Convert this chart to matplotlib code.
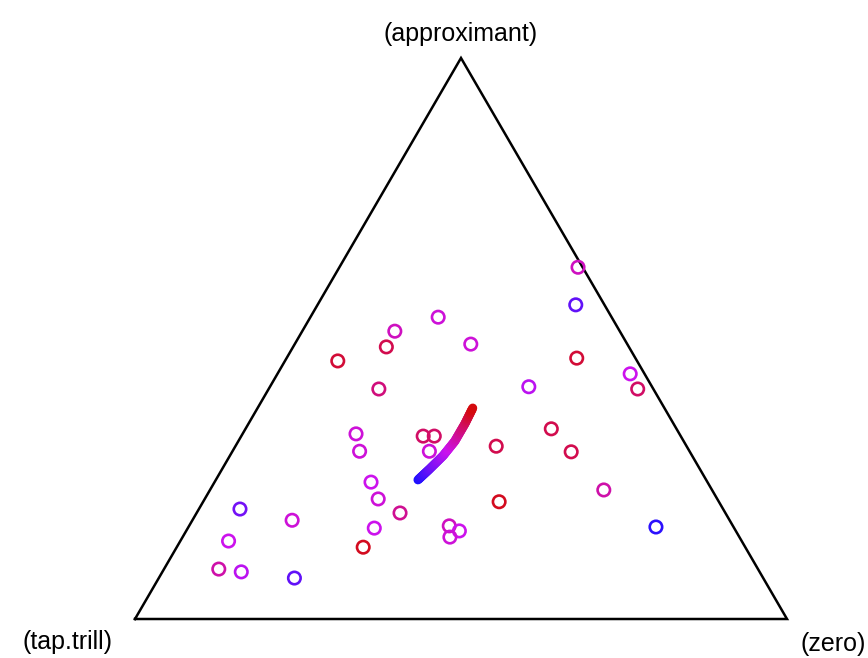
import numpy as np
import matplotlib
matplotlib.use("Agg")
import matplotlib.pyplot as plt
from matplotlib.colors import LinearSegmentedColormap
from matplotlib.collections import LineCollection

# ternary compositions: approximant / zero share (tap.trill = remainder)
approximant = [0.627, 0.560, 0.465, 0.437, 0.410, 0.414, 0.339, 0.308, 0.298, 0.230,
               0.209, 0.164, 0.538, 0.513, 0.485, 0.460, 0.490, 0.410, 0.330, 0.299,
               0.326, 0.326, 0.299, 0.244, 0.214, 0.189, 0.162, 0.128, 0.166, 0.157,
               0.146, 0.196, 0.176, 0.139, 0.089, 0.084, 0.073]
zero = [0.366, 0.396, 0.445, 0.541, 0.566, 0.397, 0.469, 0.400, 0.520, 0.604,
        0.454, 0.717, 0.196, 0.142, 0.143, 0.081, 0.270, 0.169, 0.174, 0.195,
        0.279, 0.296, 0.302, 0.240, 0.266, 0.312, 0.286, 0.286, 0.399, 0.419,
        0.410, 0.063, 0.153, 0.074, 0.084, 0.121, 0.208]
# colour value of each observation (0 = blue, 1 = red)
shade = [0.60, 0.20, 0.90, 0.50, 0.80, 0.45, 0.85, 0.85, 0.85, 0.65,
         0.95, 0.05, 0.55, 0.60, 0.85, 0.90, 0.55, 0.75, 0.55, 0.55,
         0.80, 0.80, 0.55, 0.50, 0.55, 0.70, 0.50, 0.95, 0.60, 0.50,
         0.55, 0.25, 0.55, 0.50, 0.65, 0.45, 0.20]

# fitted trajectory
traj_approximant = [0.248, 0.267, 0.291, 0.317, 0.348, 0.376]
traj_zero = [0.310, 0.318, 0.327, 0.332, 0.332, 0.330]

corner_labels = ["(tap.trill)", "(zero)", "(approximant)"]

H = np.sqrt(3) / 2


def to_xy(a, z):
    a = np.asarray(a)
    z = np.asarray(z)
    return z + a / 2, a * H


cmap = LinearSegmentedColormap.from_list("bmr", ["#1a10ff", "#cc12ee", "#d40a0a"])

fig = plt.figure(figsize=(8.68, 6.58), dpi=100)
ax = fig.add_axes([0, 0, 1, 1])
ax.set_xlim(-135 / 652, 733 / 652)
ax.set_ylim(-39 / 647.8, 619 / 647.8)
ax.axis("off")

# triangle frame
tri_x = [0, 1, 0.5, 0]
tri_y = [0, 0, H, 0]
ax.plot(tri_x, tri_y, color="black", lw=1.8, solid_joinstyle="miter")

# observations
px, py = to_xy(approximant, zero)
ax.scatter(px, py, s=80, facecolors="none", edgecolors=cmap(np.array(shade)),
           linewidths=1.9, zorder=3)

# trajectory with colour gradient (blue -> magenta -> red)
tx, ty = to_xy(traj_approximant, traj_zero)
segs, cols = [], []
n_sub = 12
for i in range(len(tx) - 1):
    for k in range(n_sub):
        f0, f1 = k / n_sub, (k + 1) / n_sub
        p0 = (tx[i] + (tx[i + 1] - tx[i]) * f0, ty[i] + (ty[i + 1] - ty[i]) * f0)
        p1 = (tx[i] + (tx[i + 1] - tx[i]) * f1, ty[i] + (ty[i + 1] - ty[i]) * f1)
        segs.append([p0, p1])
        cols.append(cmap((i + (f0 + f1) / 2) / (len(tx) - 1)))
lc = LineCollection(segs, colors=cols, linewidths=6.5, capstyle="round", zorder=4)
ax.add_collection(lc)

# corner labels
fs = 18
ax.text(0.5, H + 24 / 647.8, corner_labels[2], ha="center", va="center",
        fontsize=fs, family="Liberation Sans")
ax.text(-113 / 652, -23 / 647.8, corner_labels[0], ha="left", va="center",
        fontsize=fs, family="Liberation Sans")
ax.text(731 / 652, -25 / 647.8, corner_labels[1], ha="right", va="center",
        fontsize=fs, family="Liberation Sans")

fig.savefig("out.png", dpi=100)
